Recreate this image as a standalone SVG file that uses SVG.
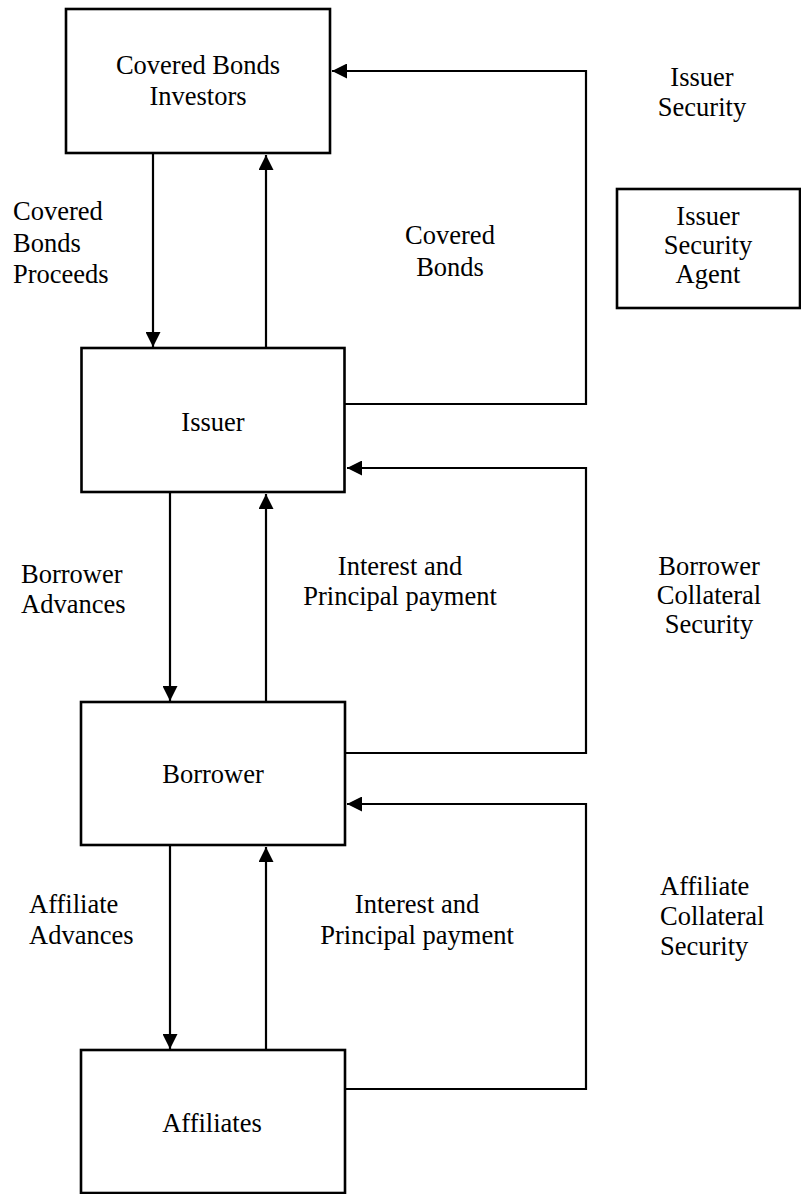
<svg xmlns="http://www.w3.org/2000/svg" width="801" height="1194" viewBox="0 0 801 1194">
<style>
.box{fill:#fff;stroke:#000;stroke-width:2.6}
.ln{fill:none;stroke:#000;stroke-width:2.2}
text{font-family:"Liberation Serif","Times New Roman",serif;font-size:26.5px;fill:#000}
.c{text-anchor:middle}
</style>
<defs>
<marker id="ah" markerWidth="16" markerHeight="15" refX="15" refY="7.5" orient="auto" markerUnits="userSpaceOnUse">
<path d="M0,0 L15,7.5 L0,15 Z" fill="#000"/>
</marker>
</defs>
<rect width="801" height="1194" fill="#fff"/>
<g id="connectors">
<line class="ln" x1="153" y1="153" x2="153" y2="347" marker-end="url(#ah)"/>
<line class="ln" x1="266" y1="348" x2="266" y2="155" marker-end="url(#ah)"/>
<polyline class="ln" points="345,404 586,404 586,71 332,71" marker-end="url(#ah)"/>
<line class="ln" x1="170" y1="492" x2="170" y2="701" marker-end="url(#ah)"/>
<line class="ln" x1="266" y1="702" x2="266" y2="494" marker-end="url(#ah)"/>
<polyline class="ln" points="345,753 586,753 586,468 347,468" marker-end="url(#ah)"/>
<line class="ln" x1="170" y1="845" x2="170" y2="1049" marker-end="url(#ah)"/>
<line class="ln" x1="266" y1="1050" x2="266" y2="847" marker-end="url(#ah)"/>
<polyline class="ln" points="345,1089 586,1089 586,804 347,804" marker-end="url(#ah)"/>
</g>
<g id="labels">
<text x="13" y="220">Covered</text>
<text x="13" y="252">Bonds</text>
<text x="13" y="283">Proceeds</text>
<text class="c" x="450" y="244">Covered</text>
<text class="c" x="450" y="276">Bonds</text>
<text class="c" x="702" y="86">Issuer</text>
<text class="c" x="702" y="116">Security</text>
<text x="21" y="583">Borrower</text>
<text x="21" y="613">Advances</text>
<text class="c" x="400" y="575">Interest and</text>
<text class="c" x="400" y="605">Principal payment</text>
<text class="c" x="709" y="575">Borrower</text>
<text class="c" x="709" y="604">Collateral</text>
<text class="c" x="709" y="633">Security</text>
<text x="29" y="913">Affiliate</text>
<text x="29" y="944">Advances</text>
<text class="c" x="417" y="913">Interest and</text>
<text class="c" x="417" y="944">Principal payment</text>
<text x="660" y="895">Affiliate</text>
<text x="660" y="925">Collateral</text>
<text x="660" y="955">Security</text>
</g>
<g id="investors">
<rect class="box" x="66" y="9" width="264" height="144"/>
<text class="c" x="198" y="74">Covered Bonds</text>
<text class="c" x="198" y="105">Investors</text>
</g>
<g id="issuer">
<rect class="box" x="81.5" y="348" width="263" height="144"/>
<text class="c" x="213" y="431">Issuer</text>
</g>
<g id="agent">
<rect class="box" x="617" y="189" width="183" height="119"/>
<text class="c" x="708" y="225">Issuer</text>
<text class="c" x="708" y="254">Security</text>
<text class="c" x="708" y="283">Agent</text>
</g>
<g id="borrower">
<rect class="box" x="81" y="702" width="264" height="143"/>
<text class="c" x="213" y="783">Borrower</text>
</g>
<g id="affiliates">
<rect class="box" x="81" y="1050" width="264" height="143"/>
<text class="c" x="212" y="1132">Affiliates</text>
</g>
</svg>
